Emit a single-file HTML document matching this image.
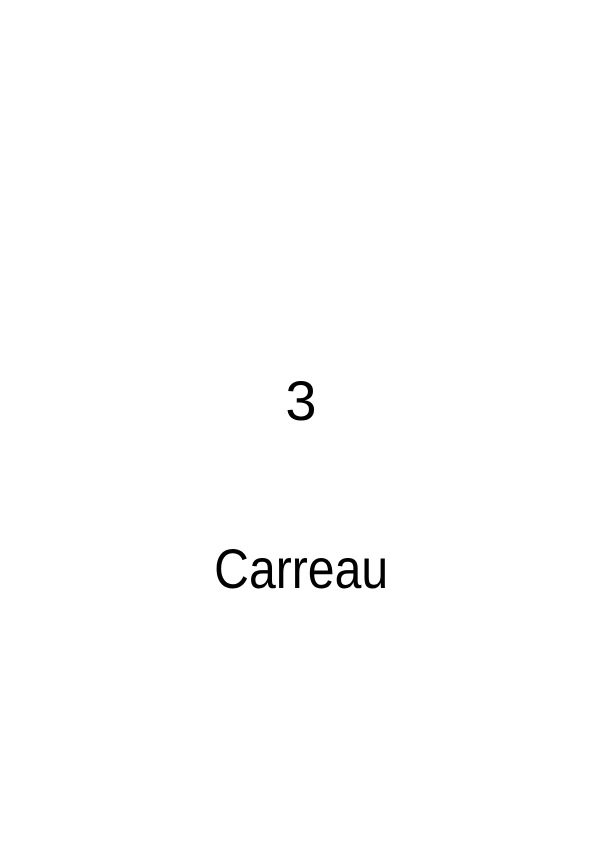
<!DOCTYPE html>
<html>
<head>
<meta charset="utf-8">
<style>
  html,body{margin:0;padding:0;background:#fff;}
  body{width:602px;height:849px;position:relative;overflow:hidden;font-family:"Liberation Sans",sans-serif;color:#000;}
  .t{position:absolute;left:0;width:602px;text-align:center;font-size:56px;line-height:56px;white-space:nowrap;}
  .t span{display:inline-block;}
</style>
</head>
<body>
  <div class="t" style="top:373px;"><span>3</span></div>
  <div class="t" style="top:541px;"><span style="transform:scaleX(0.86);transform-origin:center;">Carreau</span></div>
</body>
</html>
